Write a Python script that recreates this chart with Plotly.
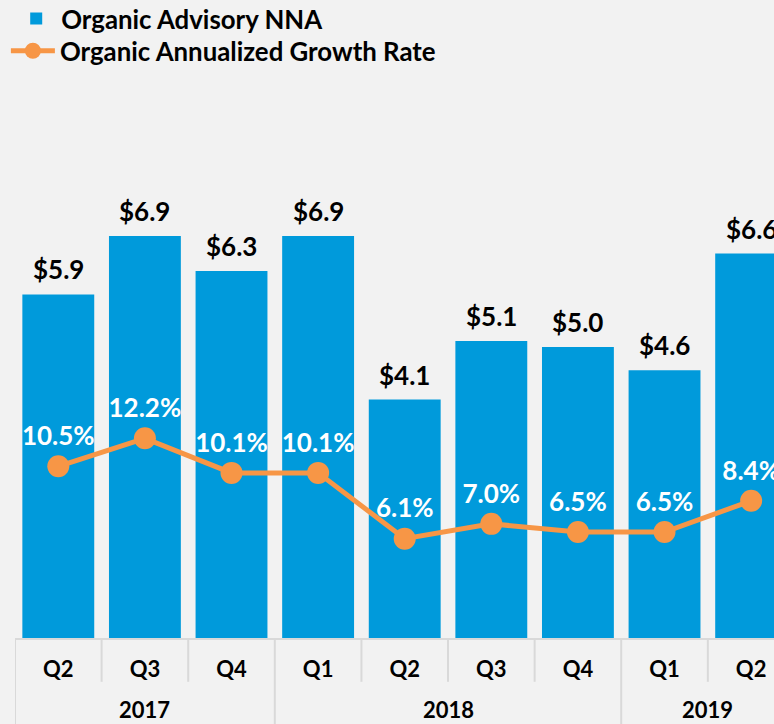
import plotly.graph_objects as go

quarters = ["Q2", "Q3", "Q4", "Q1", "Q2", "Q3", "Q4", "Q1", "Q2"]
years = ["2017", "2017", "2017", "2018", "2018", "2018", "2018", "2019", "2019"]
nna = [5.9, 6.9, 6.3, 6.9, 4.1, 5.1, 5.0, 4.6, 6.6]
growth = [10.5, 12.2, 10.1, 10.1, 6.1, 7.0, 6.5, 6.5, 8.4]

BLUE = "#009ADB"
ORANGE = "#F79646"
BG = "#F2F2F2"
GRID = "#D9D9D9"
FONT = "Lato"

x = list(range(len(quarters)))

fig = go.Figure()
fig.add_trace(go.Bar(
    x=x, y=nna, name="Organic Advisory NNA",
    marker=dict(color=BLUE, line=dict(width=0)),
    width=0.83, legend="legend",
))
fig.add_trace(go.Scatter(
    x=x, y=growth, name="Organic Annualized Growth Rate", yaxis="y2",
    mode="lines+markers+text",
    line=dict(color=ORANGE, width=5),
    marker=dict(color=ORANGE, size=22),
    text=[f"{v:.1f}%" for v in growth], textposition="top center",
    textfont=dict(family=FONT, size=26, color="white", weight="bold"),
    cliponaxis=False, legend="legend2",
))

annotations = []
for xi, v in zip(x, nna):
    annotations.append(dict(x=xi, y=v, xref="x", yref="y", text=f"${v:.1f}",
                            showarrow=False, yanchor="bottom", yshift=7,
                            font=dict(family=FONT, size=26, color="black", weight="bold")))

shapes = []
shapes.append(dict(type="line", xref="paper", yref="paper", x0=0, x1=1, y0=0, y1=0,
                   line=dict(color=GRID, width=2)))
for i in range(len(quarters) - 1):
    b = i + 0.5
    y1 = -0.14 if years[i] != years[i + 1] else -0.067
    shapes.append(dict(type="line", xref="x", yref="paper", x0=b, x1=b, y0=0, y1=y1,
                       line=dict(color=GRID, width=2)))
shapes.append(dict(type="line", xref="x", yref="paper", x0=-0.5, x1=-0.5, y0=0, y1=-0.14,
                   line=dict(color=GRID, width=2)))

uniq = []
for yv in years:
    if yv not in uniq:
        uniq.append(yv)
for yv in uniq:
    idx = [i for i, v in enumerate(years) if v == yv]
    annotations.append(dict(x=(idx[0] + idx[-1]) / 2, y=-0.111, xref="x", yref="paper",
                            text=yv, showarrow=False, yanchor="middle",
                            font=dict(family=FONT, size=22, color="black", weight="bold")))

legend_font = dict(family=FONT, size=25.8, color="black", weight="bold")
fig.update_layout(
    width=774, height=724,
    paper_bgcolor=BG, plot_bgcolor=BG,
    margin=dict(l=15, r=0, t=0, b=85, autoexpand=False),
    showlegend=True,
    legend=dict(x=-0.005, y=1.0075, xref="paper", yref="paper", xanchor="left", yanchor="top",
                font=legend_font, bgcolor="rgba(0,0,0,0)", itemwidth=40),
    legend2=dict(x=-0.012, y=0.957, xref="paper", yref="paper", xanchor="left", yanchor="top",
                 font=legend_font, bgcolor="rgba(0,0,0,0)", itemwidth=44),
    xaxis=dict(range=[-0.5, 8.264], tickvals=x, ticktext=quarters, showgrid=False,
               zeroline=False, showline=False, ticks="", ticklabelstandoff=15,
               tickfont=dict(family=FONT, size=22, color="black", weight="bold")),
    yaxis=dict(range=[0, 10.94], visible=False, showgrid=False, zeroline=False),
    yaxis2=dict(range=[0, 38.85], overlaying="y", visible=False, showgrid=False, zeroline=False),
    shapes=shapes, annotations=annotations,
)

fig.write_html("out.html", config={"displayModeBar": False},
               post_script="document.body.style.margin='0px';document.body.style.overflow='hidden';")
